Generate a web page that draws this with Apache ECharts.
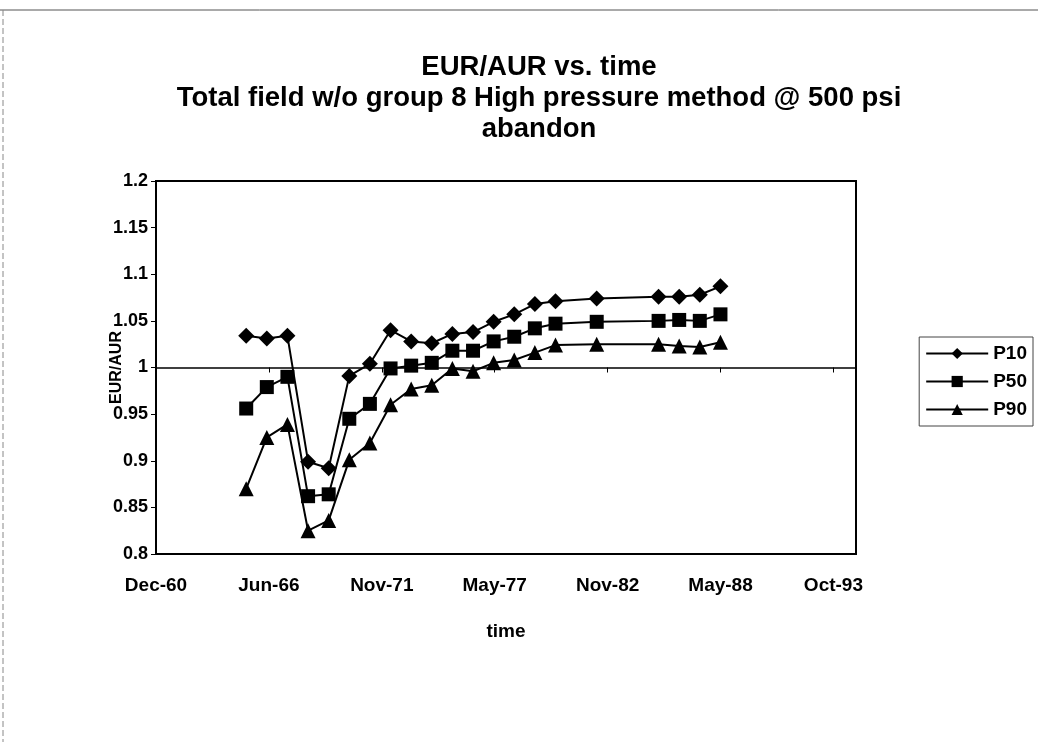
<!DOCTYPE html>
<html>
<head>
<meta charset="utf-8">
<script src="https://cdn.jsdelivr.net/npm/echarts@6/dist/echarts.min.js"></script>
<style>
  html, body { margin: 0; padding: 0; background: #fff; }
  #chart { width: 1038px; height: 742px; }
</style>
</head>
<body>
<div id="chart"></div>
<script>
// years of the yearly points (May of each year)
var years = [1965, 1966, 1967, 1968, 1969, 1970, 1971, 1972, 1973, 1974, 1975,
             1976, 1977, 1978, 1979, 1980, 1982, 1985, 1986, 1987, 1988];
var p10 = [1.034, 1.031, 1.034, 0.899, 0.892, 0.991, 1.004, 1.040, 1.028, 1.026, 1.036,
           1.038, 1.049, 1.057, 1.068, 1.071, 1.074, 1.076, 1.076, 1.078, 1.087];
var p50 = [0.956, 0.979, 0.990, 0.862, 0.864, 0.945, 0.961, 0.999, 1.002, 1.005, 1.018,
           1.018, 1.028, 1.033, 1.042, 1.047, 1.049, 1.050, 1.051, 1.050, 1.057];
var p90 = [0.870, 0.925, 0.939, 0.825, 0.836, 0.901, 0.919, 0.960, 0.977, 0.981, 0.999,
           0.996, 1.005, 1.008, 1.016, 1.024, 1.025, 1.025, 1.023, 1.022, 1.027];

var DAY = 86400000;
var xMin = Date.UTC(1960, 11, 15);
var xStep = 2000 * DAY;
var xMax = xMin + 6.2 * xStep;
var yMin = 0.8, yMax = 1.2;
var months = ['Jan','Feb','Mar','Apr','May','Jun','Jul','Aug','Sep','Oct','Nov','Dec'];

function pts(vals) {
  return years.map(function (y, i) { return [Date.UTC(y, 4, 1), vals[i]]; });
}
function dateLabel(v) {
  if (Math.abs((v - xMin) / xStep - Math.round((v - xMin) / xStep)) > 1e-6) return '';
  var d = new Date(v);
  var yy = d.getUTCFullYear() % 100;
  return months[d.getUTCMonth()] + '-' + (yy < 10 ? '0' + yy : yy);
}

var chart = echarts.init(document.getElementById('chart'));
var gridTop = 181, gridBottom = 188;
var gridH = 742 - gridTop - gridBottom;
var font = 'Liberation Sans, Arial, sans-serif';

function line(name, data, symbol, size) {
  return {
    name: name,
    type: 'line',
    data: data,
    symbol: symbol,
    symbolSize: size,
    showSymbol: true,
    animation: false,
    lineStyle: { color: '#000', width: 2 },
    itemStyle: { color: '#000' }
  };
}

var option = {
  backgroundColor: '#fff',
  animation: false,
  textStyle: { fontFamily: font, color: '#000' },
  title: {
    text: 'EUR/AUR vs. time\nTotal field w/o group 8 High pressure method @ 500 psi\nabandon',
    left: 534,
    top: 47,
    textAlign: 'center',
    textStyle: { fontFamily: font, fontSize: 27.5, fontWeight: 'bold', color: '#000', lineHeight: 31 }
  },
  legend: {
    orient: 'vertical',
    right: 5,
    top: 337,
    itemWidth: 62,
    itemHeight: 14,
    itemGap: 9,
    padding: [7, 6, 7, 6],
    borderColor: '#444',
    borderWidth: 1,
    textStyle: { fontFamily: font, fontSize: 19, fontWeight: 'bold', color: '#000' },
    data: ['P10', 'P50', 'P90']
  },
  grid: {
    left: 156, right: 182, top: gridTop, bottom: gridBottom,
    show: true, borderColor: '#000', borderWidth: 2
  },
  xAxis: [{
    type: 'value',
    min: xMin, max: xMax, interval: xStep,
    name: 'time',
    nameLocation: 'middle',
    nameGap: 68,
    nameMoveOverlap: false,
    nameTextStyle: { fontFamily: font, fontSize: 19, fontWeight: 'bold', color: '#000' },
    axisLine: { show: true, onZero: false, lineStyle: { color: '#000', width: 2 } },
    axisTick: { show: false },
    splitLine: { show: false },
    axisLabel: { formatter: dateLabel, margin: 22, fontFamily: font, fontSize: 19, fontWeight: 'bold', color: '#000' }
  }, {
    type: 'value',
    position: 'bottom',
    offset: -gridH * (1 - yMin) / (yMax - yMin),
    min: xMin, max: xMax, interval: xStep,
    axisLine: { show: true, onZero: false, lineStyle: { color: '#000', width: 1.5 } },
    axisTick: { show: true, length: 5, lineStyle: { color: '#000', width: 1 } },
    axisLabel: { show: false },
    splitLine: { show: false }
  }],
  yAxis: {
    type: 'value',
    min: yMin, max: yMax, interval: 0.05,
    name: 'EUR/AUR',
    nameLocation: 'middle',
    nameGap: 31,
    nameMoveOverlap: false,
    nameRotate: 90,
    nameTextStyle: { fontFamily: font, fontSize: 16, fontWeight: 'bold', color: '#000' },
    axisLine: { show: true, onZero: false, lineStyle: { color: '#000', width: 2 } },
    axisTick: { show: true, length: 5, lineStyle: { color: '#000' } },
    splitLine: { show: false },
    axisLabel: { margin: 8, fontFamily: font, fontSize: 18, fontWeight: 'bold', color: '#000' }
  },
  graphic: [
    { type: 'line', shape: { x1: 0, y1: 10, x2: 1038, y2: 10 }, style: { stroke: '#555', lineWidth: 1 } },
    { type: 'line', shape: { x1: 3, y1: 10, x2: 3, y2: 742 }, style: { stroke: '#888', lineWidth: 1, lineDash: [6, 3] } }
  ],
  series: [
    line('P10', pts(p10), 'diamond', 16),
    line('P50', pts(p50), 'rect', 14),
    line('P90', pts(p90), 'triangle', 15)
  ]
};
chart.setOption(option);
</script>
</body>
</html>
